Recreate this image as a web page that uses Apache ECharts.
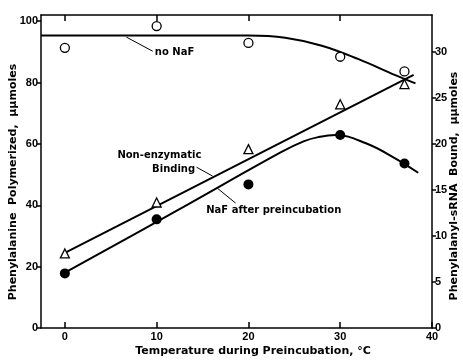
<!DOCTYPE html>
<html><head><meta charset="utf-8">
<script src="https://cdn.jsdelivr.net/npm/echarts@6/dist/echarts.min.js"></script>
<style>html,body{margin:0;padding:0;background:#fff}#c{width:463px;height:361px}</style>
</head><body><div id="c"></div>
<script>
// Measured points (temperature, °C)
const temps = [0, 10, 20, 30, 37];
const noNaF = [91.3, 98.4, 92.9, 88.4, 83.6];
const nonEnzymatic = [24.3, 40.9, 58.3, 72.9, 79.5];
const nafAfter = [17.8, 35.4, 46.8, 62.9, 53.6];
// Drawn curves
const noNaFCurveX = [-2.6, 20, 24, 28, 32, 36, 38.2];
const noNaFCurveY = [95.3, 95.3, 94.6, 92, 87.6, 82.4, 79.7];
const nonEnzLineX = [0, 38];
const nonEnzLineY = [24.5, 82.5];
const nafCurveX = [0.3, 12, 23.5, 26, 27.6, 29.5, 32.8, 35.7, 38.5];
const nafCurveY = [18.5, 37.9, 57.2, 60.8, 62.2, 62.9, 60.2, 55.8, 50.6];
// Axis ticks
const xTicks = [0, 10, 20, 30, 40];
const topTicks = [0, 10, 20, 30];
const leftTicks = [0, 20, 40, 60, 80, 100];
const rightTicks = [0, 5, 10, 15, 20, 25, 30];
// Texts
const xTitle = 'Temperature during Preincubation, °C';
const leftTitle = 'Phenylalanine  Polymerized,  μμmoles';
const rightTitle = 'Phenylalanyl-sRNA  Bound,  μμmoles';
// Annotations: [text, x, y, align]
const labels = [["no NaF", 9.8, 89.9, 'left'], ["Non-enzymatic", 10.3, 56.4, 'center'], ["Binding", 11.85, 51.8, 'center'], ["NaF after preincubation", 15.4, 38.4, 'left']];
const leaders = [[[6.7, 94.8], [9.57, 90.2]], [[14.35, 52.4], [16.1, 49.5]], [[16.6, 45.6], [18.6, 40.7]]];

const FONT = 'DejaVu Sans';
const TICKFONT = 'Liberation Sans';
const zip = (a, b) => a.map((v, i) => [v, b[i]]);
const chart = echarts.init(document.getElementById('c'), null, {renderer: 'canvas'});
const lineStyle = {color: '#000', width: 2};
const tickTxt = {fontFamily: TICKFONT, fontWeight: 'bold', fontSize: 11, color: '#000'};
const axLine = {show: true, onZero: false, lineStyle: {color: '#000', width: 1.5}};
chart.setOption({
  animation: false,
  grid: {left: 41, right: 31, top: 15, bottom: 33},
  xAxis: [
    {type: 'value', min: -2.6, max: 40, position: 'bottom',
     axisLine: axLine,
     axisTick: {inside: true, length: 6, customValues: xTicks, lineStyle: {color: '#000', width: 1.5}},
     axisLabel: {customValues: xTicks, ...tickTxt, margin: 3},
     splitLine: {show: false}},
    {type: 'value', min: -2.6, max: 40, position: 'top',
     axisLine: axLine,
     axisTick: {inside: true, length: 6, customValues: topTicks, lineStyle: {color: '#000', width: 1.5}},
     axisLabel: {show: false}, splitLine: {show: false}}
  ],
  yAxis: [
    {type: 'value', min: 0, max: 102, position: 'left',
     axisLine: axLine,
     axisTick: {show: true, length: 4, customValues: leftTicks, lineStyle: {color: '#000', width: 1.5}},
     axisLabel: {customValues: leftTicks, ...tickTxt, margin: 3},
     splitLine: {show: false}},
    {type: 'value', min: 0, max: 34, position: 'right',
     axisLine: axLine,
     axisTick: {show: true, length: 4, customValues: rightTicks, lineStyle: {color: '#000', width: 1.5}},
     axisLabel: {customValues: rightTicks, ...tickTxt, margin: 3},
     splitLine: {show: false}}
  ],
  series: [
    {type: 'line', data: zip(noNaFCurveX, noNaFCurveY), smooth: 0.4, showSymbol: false, lineStyle, silent: true},
    {type: 'line', data: zip(nonEnzLineX, nonEnzLineY), showSymbol: false, lineStyle, silent: true},
    {type: 'line', data: zip(nafCurveX, nafCurveY), smooth: 0.4, showSymbol: false, lineStyle, silent: true},
    ...leaders.map(l => ({type: 'line', data: l, showSymbol: false, lineStyle: {color: '#000', width: 1}, silent: true})),
    {type: 'scatter', data: zip(temps, noNaF), symbol: 'circle', symbolSize: 9,
     itemStyle: {color: '#fff', borderColor: '#000', borderWidth: 1.3, opacity: 1}, z: 5},
    {type: 'scatter', data: zip(temps, nonEnzymatic), symbol: 'triangle', symbolSize: 9,
     itemStyle: {color: '#fff', borderColor: '#000', borderWidth: 1.3, opacity: 1}, z: 5},
    {type: 'scatter', data: zip(temps, nafAfter), symbol: 'circle', symbolSize: 10,
     itemStyle: {color: '#000', opacity: 1}, z: 5}
  ]
});
const titleFont = 'bold 11px "' + FONT + '"';
chart.setOption({
  graphic: labels.map(([t, x, y, a]) => {
    const p = chart.convertToPixel({xAxisIndex: 0, yAxisIndex: 0}, [x, y]);
    return {type: 'text', x: p[0], y: p[1], style: {text: t, font: 'bold 10px "' + FONT + '"', fill: '#000', align: a, verticalAlign: 'middle'}};
  }).concat([
    {type: 'text', x: 253, y: 351, style: {text: xTitle, font: titleFont, fill: '#000', align: 'center', verticalAlign: 'middle'}},
    {type: 'text', x: 13, y: 182, rotation: Math.PI / 2, style: {text: leftTitle, font: titleFont, fill: '#000', align: 'center', verticalAlign: 'middle'}},
    {type: 'text', x: 454, y: 186, rotation: Math.PI / 2, style: {text: rightTitle, font: titleFont, fill: '#000', align: 'center', verticalAlign: 'middle'}}
  ])
});
</script></body></html>
